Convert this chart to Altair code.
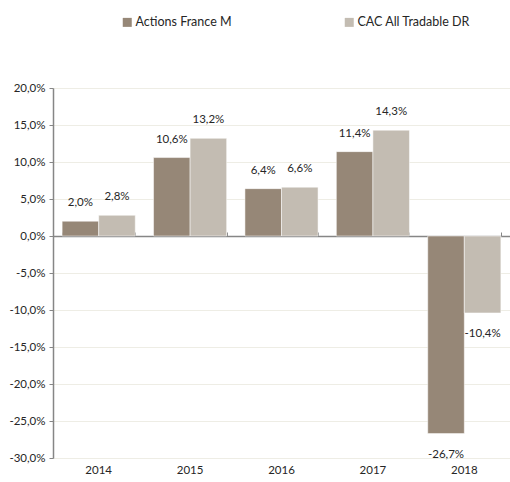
import altair as alt
import pandas as pd

years = ["2014", "2015", "2016", "2017", "2018"]
fund = [2.0, 10.6, 6.4, 11.4, -26.7]
index = [2.8, 13.2, 6.6, 14.3, -10.4]
series = ["Actions France M", "CAC All Tradable DR"]
colors = ["#968777", "#c3bcb2"]
ticks = [-30, -25, -20, -15, -10, -5, 0, 5, 10, 15, 20]

rows = []
for i, y in enumerate(years):
    rows.append({"year": y, "series": series[0], "value": fund[i]})
    rows.append({"year": y, "series": series[1], "value": index[i]})
df = pd.DataFrame(rows)

FONT = "Lato"
TXT = "#262626"
FMT = "replace(replace(format(datum.value, '.1f'), '.', ','), '\u2212', '-') + '%'"

xscale = alt.Scale(paddingInner=0.2, paddingOuter=0.1)
yscale = alt.Scale(domain=[-30, 20], nice=False, zero=False)
yaxis = alt.Axis(title=None, values=ticks, tickCount=11,
                 labelExpr=FMT, labelOverlap=False,
                 domainColor="#868686", domainWidth=1.5, tickColor="#868686",
                 tickSize=4, labelPadding=4, gridColor="#eeede5",
                 labelFontSize=11.5, labelColor=TXT, labelFont=FONT)

base = alt.Chart(df)

bars = base.mark_bar(stroke="white", strokeWidth=0.5).encode(
    x=alt.X("year:N", scale=xscale, sort=years,
            axis=alt.Axis(title=None, labelAngle=0, domain=False, ticks=False,
                          grid=False, labelPadding=6, labelFontSize=11.5,
                          labelColor=TXT, labelFont=FONT)),
    xOffset=alt.XOffset("series:N", sort=series, scale=alt.Scale(paddingInner=0, paddingOuter=0)),
    y=alt.Y("value:Q", scale=yscale, axis=yaxis),
    color=alt.Color("series:N", sort=series,
                    scale=alt.Scale(domain=series, range=colors),
                    legend=alt.Legend(title=None, orient="none", direction="horizontal",
                                      columns=2, columnPadding=111, legendX=68, legendY=-72,
                                      symbolType="square", symbolSize=81, symbolStrokeWidth=0,
                                      labelFontSize=12.5, labelFont=FONT, labelColor=TXT,
                                      labelOffset=2)),
)

lab = base.transform_calculate(label=FMT)

pos = lab.transform_filter("datum.value >= 0").mark_text(
    baseline="middle", dy=-18, fontSize=11.5, font=FONT, color=TXT
).encode(
    x=alt.X("year:N", scale=xscale, sort=years, axis=None),
    xOffset=alt.XOffset("series:N", sort=series),
    y=alt.Y("value:Q", scale=yscale, axis=yaxis),
    text="label:N",
)

neg = lab.transform_filter("datum.value < 0").mark_text(
    baseline="middle", dy=21, fontSize=11.5, font=FONT, color=TXT
).encode(
    x=alt.X("year:N", scale=xscale, sort=years, axis=None),
    xOffset=alt.XOffset("series:N", sort=series),
    y=alt.Y("value:Q", scale=yscale, axis=yaxis),
    text="label:N",
)

zero_axis = base.mark_text(opacity=0).encode(
    x=alt.X("year:N", scale=xscale, sort=years,
            axis=alt.Axis(orient="top", title=None, labels=False, offset=-148,
                          tickBand="extent", tickSize=4, tickColor="#868686",
                          domainColor="#868686", domainWidth=1.5, grid=False)),
    y=alt.Y("value:Q", scale=yscale, axis=yaxis),
    text=alt.value(""),
)

chart = alt.layer(bars, pos, neg, zero_axis).resolve_axis(x="independent").properties(
    width=457, height=370,
    autosize=alt.AutoSizeParams(type="none"),
    padding={"left": 53, "top": 88, "right": 0, "bottom": 24},
).configure_view(stroke=None).configure(background="white")

chart.save("out.html", embed_options={"renderer": "svg", "actions": False})
